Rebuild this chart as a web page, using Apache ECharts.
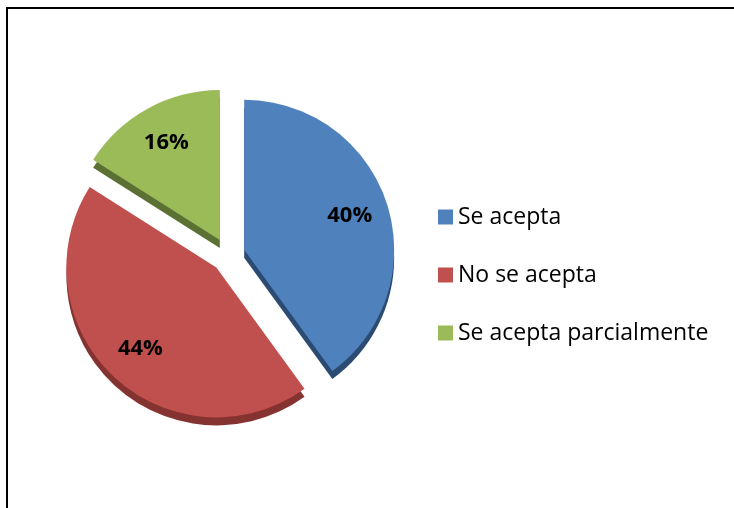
<!DOCTYPE html>
<html>
<head>
<meta charset="utf-8">
<script src="https://cdn.jsdelivr.net/npm/echarts@6/dist/echarts.min.js"></script>
<style>
  html, body { margin: 0; padding: 0; background: #fff; }
  #chart { width: 734px; height: 508px; }
</style>
</head>
<body>
<div id="chart"></div>
<script>
// data
const categories = ['Se acepta', 'No se acepta', 'Se acepta parcialmente'];
const shares = [40, 44, 16];
const topColors = ['#4f81bd', '#c0504d', '#9bbb59'];
const sideColors = ['#2b4b72', '#853330', '#5b7033'];

const R = 150;
const cx = 228, cy = 255;
const depth = 8;      // fake 3d thickness
const explode = 17;

const font = "'Open Sans', 'DejaVu Sans', sans-serif";

function pieData(colors) {
    return categories.map((name, i) => ({
        name: name,
        value: shares[i],
        selected: true,
        itemStyle: {color: colors[i]}
    }));
}

const base = {
    type: 'pie',
    startAngle: 90,
    clockwise: true,
    selectedMode: 'multiple',
    selectedOffset: explode,
    avoidLabelOverlap: false,
    emphasis: {disabled: true},
    labelLine: {show: false},
    animation: false
};

const chart = echarts.init(document.getElementById('chart'), null, {renderer: 'canvas'});

chart.setOption({
    backgroundColor: '#fff',
    graphic: [{
        type: 'rect',
        shape: {x: 7, y: 8, width: 760, height: 540},
        style: {fill: 'none', stroke: '#000', lineWidth: 2},
        silent: true
    }],
    legend: {
        orient: 'vertical',
        left: 433,
        top: 200,
        icon: 'rect',
        itemWidth: 15,
        itemHeight: 15,
        itemGap: 34,
        selectedMode: false,
        data: categories.map((name, i) => ({name: name, itemStyle: {color: topColors[i]}})),
        textStyle: {
            fontFamily: font,
            fontSize: 23,
            lineHeight: 24,
            color: '#000'
        }
    },
    series: [
        Object.assign({}, base, {
            name: 'top',
            z: 3,
            center: [cx, cy],
            radius: [0, R],
            label: {show: false},
            data: pieData(topColors)
        }),
        Object.assign({}, base, {
            name: 'side',
            z: 2,
            silent: true,
            center: [cx, cy + depth],
            radius: [0, R],
            label: {show: false},
            data: pieData(sideColors)
        }),
        Object.assign({}, base, {
            name: 'labels',
            z: 4,
            silent: true,
            center: [cx, cy],
            radius: [R * 0.44, R],
            label: {
                show: true,
                position: 'inside',
                formatter: '{c}%',
                fontFamily: font,
                fontWeight: 'bold',
                fontSize: 22,
                color: '#000'
            },
            data: pieData(['rgba(0,0,0,0)', 'rgba(0,0,0,0)', 'rgba(0,0,0,0)'])
        })
    ]
});
</script>
</body>
</html>
